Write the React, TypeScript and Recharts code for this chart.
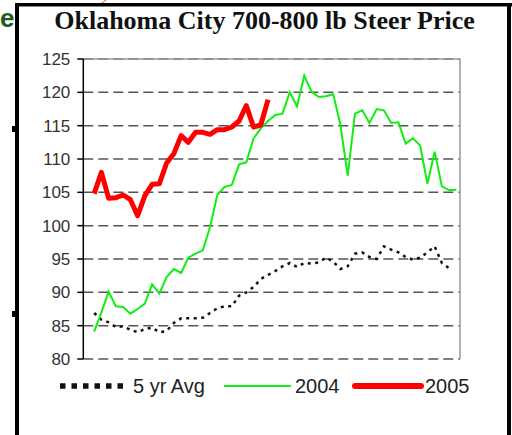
import React from 'react';
import {
    LineChart,
    Line,
    XAxis,
    YAxis,
    CartesianGrid,
    ReferenceLine
} from 'recharts';

// week 0 is an empty slot, the series start at week 1
const weeks = Array.from({ length: 52 }, (_, i) => i);

const avg5yr = [
    86.9, 85.9, 85.5, 84.8, 84.9, 84.4, 84.0, 84.5, 84.7, 84.0,
    84.2, 85.4, 86.1, 86.1, 86.1, 86.2, 86.9, 87.6, 87.9, 87.9,
    89.5, 90.0, 90.8, 92.0, 92.6, 93.2, 93.9, 94.4, 93.8, 94.4,
    94.3, 94.5, 95.2, 94.6, 93.5, 93.9, 95.8, 96.0, 95.3, 95.0,
    96.9, 96.4, 96.0, 95.3, 94.9, 95.2, 96.0, 96.9, 94.4, 93.6
];

const y2004 = [
    84.1, 87.0, 90.1, 87.9, 87.8, 86.8, 87.5, 88.3, 91.2, 89.8,
    92.3, 93.5, 92.9, 95.2, 95.8, 96.3, 99.8, 104.6, 105.8, 106.1,
    109.2, 109.5, 113.1, 114.6, 115.7, 116.6, 116.8, 120.0, 117.9, 122.5,
    120.1, 119.3, 119.4, 119.7, 115.1, 107.5, 116.8, 117.3, 115.4, 117.5,
    117.3, 115.4, 115.5, 112.3, 113.1, 112.0, 106.3, 111.1, 105.9, 105.3,
    105.4
];

const y2005 = [
    104.8, 108.0, 104.1, 104.2, 104.6, 103.9, 101.5, 104.5, 106.2, 106.3,
    109.4, 110.8, 113.5, 112.5, 114.0, 114.0, 113.7, 114.4, 114.4, 114.8,
    115.7, 118.0, 114.8, 115.1, 118.9
];

const yTicks = [80, 85, 90, 95, 100, 105, 110, 115, 120, 125];

const data = weeks.map((w) => ({
    week: w,
    avg: w >= 1 ? avg5yr[w - 1] ?? null : null,
    y2004: w >= 1 ? y2004[w - 1] ?? null : null,
    y2005: w >= 1 ? y2005[w - 1] ?? null : null
}));

const sansFont = '"Liberation Sans", Arial, sans-serif';

const ChartLegend = () => (
    <svg width={512} height={40} style={{ position: 'absolute', left: 0, top: 366 }}>
        <line x1={60} y1={20} x2={124} y2={20} stroke="#111" strokeWidth={5.5} strokeDasharray="5.5 6" />
        <text x={133} y={27} fontFamily={sansFont} fontSize={20} fill="#222">5 yr Avg</text>
        <line x1={224} y1={20} x2={291} y2={20} stroke="#11ee11" strokeWidth={2} />
        <text x={295} y={27} fontFamily={sansFont} fontSize={20} fill="#222">2004</text>
        <line x1={355} y1={20} x2={421} y2={20} stroke="#ff0000" strokeWidth={6} strokeLinecap="round" />
        <text x={425} y={27} fontFamily={sansFont} fontSize={20} fill="#222">2005</text>
    </svg>
);

export default function App() {
    return (
        <div style={{ position: 'fixed', left: 0, top: 0, width: 512, height: 435, background: '#fff', overflow: 'hidden' }}>
            {/* slide leftovers outside the frame */}
            <div style={{ position: 'absolute', left: 0, top: 3, fontFamily: sansFont, fontWeight: 'bold', fontSize: 26, color: '#1d5c1d' }}>e</div>
            <svg width={512} height={435} style={{ position: 'absolute', left: 0, top: 0 }}>
                <line x1={102} y1={3} x2={106} y2={0} stroke="#ff3030" strokeWidth={1} />
                <rect x={12} y={126} width={3} height={6} fill="#000" />
                <rect x={12} y={311} width={3} height={6} fill="#000" />
                <rect x={15} y={3} width={497} height={3.5} fill="#000" />
                <rect x={15} y={3} width={4} height={432} fill="#000" />
                <rect x={507} y={3} width={4} height={432} fill="#000" />
                <text x={264.5} y={29} textAnchor="middle" fontFamily='"Liberation Serif", "Times New Roman", serif' fontWeight="bold" fontSize={26} fill="#111">
                    Oklahoma City 700-800 lb Steer Price
                </text>
            </svg>
            <div style={{ position: 'absolute', left: 0, top: 0 }}>
                <LineChart width={512} height={435} data={data} margin={{ top: 59, right: 52, left: 23.3, bottom: 76 }}>
                    <CartesianGrid vertical={false} stroke="#555" strokeWidth={1.5} strokeDasharray="10 5" />
                    <XAxis
                        dataKey="week"
                        type="number"
                        domain={[-0.5, 51.5]}
                        tick={false}
                        tickLine={false}
                        height={0}
                        axisLine={{ stroke: '#888', strokeWidth: 1.5 }}
                    />
                    <YAxis
                        domain={[80, 125]}
                        ticks={yTicks}
                        width={60}
                        tickSize={6}
                        tickMargin={7}
                        axisLine={{ stroke: '#000', strokeWidth: 1.5 }}
                        tickLine={{ stroke: '#000', strokeWidth: 1.5 }}
                        tick={{ fill: '#333', fontSize: 17, fontFamily: sansFont }}
                    />
                    <ReferenceLine y={125} stroke="#999" strokeWidth={1.5} />
                    <ReferenceLine x={51.5} stroke="#999" strokeWidth={1.5} />
                    <Line
                        dataKey="avg"
                        stroke="#111"
                        strokeWidth={2.5}
                        strokeDasharray="3 4.5"
                        dot={false}
                        connectNulls={false}
                        isAnimationActive={false}
                    />
                    <Line
                        dataKey="y2004"
                        stroke="#11ee11"
                        strokeWidth={2}
                        dot={false}
                        isAnimationActive={false}
                    />
                    <Line
                        dataKey="y2005"
                        stroke="#ff0000"
                        strokeWidth={5}
                        strokeLinejoin="round"
                        dot={false}
                        isAnimationActive={false}
                    />
                </LineChart>
            </div>
            <ChartLegend />
        </div>
    );
}
